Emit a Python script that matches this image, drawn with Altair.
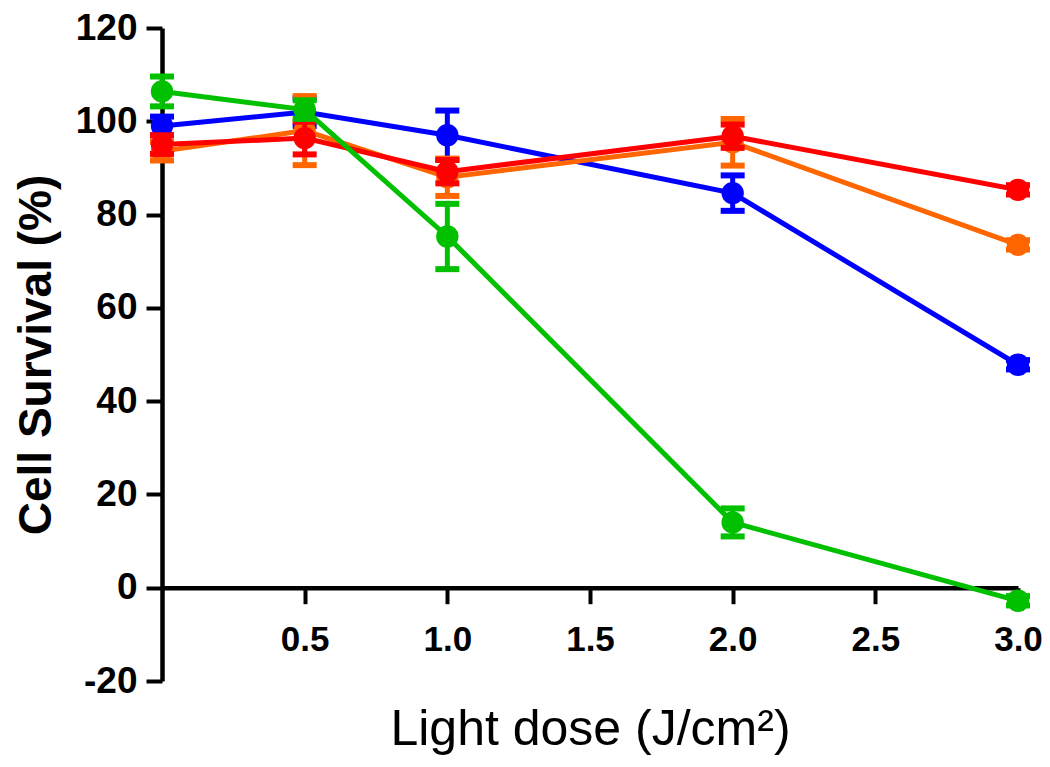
import altair as alt
import pandas as pd

doses = [0, 0.5, 1.0, 2.0, 3.0]

series_names = ["blue", "orange", "red", "green"]
series_colors = ["#0000FF", "#FF6600", "#FF0000", "#00C000"]

blue_vals = [99.0, 102.0, 97.0, 84.6, 47.8]
blue_err = [2.0, 3.0, 5.3, 3.8, 1.0]
orange_vals = [93.6, 98.0, 88.0, 95.5, 73.5]
orange_err = [2.0, 7.4, 4.0, 5.0, 1.0]
red_vals = [95.0, 96.4, 89.2, 96.8, 85.3]
red_err = [2.0, 3.5, 2.5, 2.5, 1.0]
green_vals = [106.4, 102.5, 75.3, 14.0, -2.8]
green_err = [3.2, 2.0, 7.0, 3.0, 1.0]

y_ticks = [-20, 0, 20, 40, 60, 80, 100, 120]
x_ticks = [0.5, 1.0, 1.5, 2.0, 2.5, 3.0]

vals = [blue_vals, orange_vals, red_vals, green_vals]
errs = [blue_err, orange_err, red_err, green_err]

W, H = 856, 653
FONT = "Liberation Sans"

x_scale = alt.Scale(domain=[0, 3], nice=False)
y_scale = alt.Scale(domain=[-20, 120], nice=False)

x_axis = alt.Axis(
    values=x_ticks, format=".1f", title="Light dose (J/cm²)",
    domainWidth=4.5, domainColor="black", tickWidth=4, tickSize=16, tickColor="black",
    labelFont=FONT, labelFontSize=35, labelFontWeight="bold", labelColor="black",
    labelPadding=19, labelFlush=False, grid=False, offset=-H * 20 / 140,
    titleFont=FONT, titleFontSize=50, titleFontWeight="normal", titleColor="black",
    titlePadding=47,
)
y_axis = alt.Axis(
    values=y_ticks, title="Cell Survival (%)",
    labelExpr="'' + datum.value",
    domainWidth=4.5, domainColor="black", tickWidth=4, tickSize=16, tickColor="black",
    labelFont=FONT, labelFontSize=37, labelFontWeight="bold", labelColor="black",
    labelPadding=9, labelFlush=False, grid=False,
    titleFont=FONT, titleFontSize=46, titleFontWeight="bold", titleColor="black",
    titlePadding=15,
)


def X():
    return alt.X("dose:Q", scale=x_scale, axis=x_axis, title="Light dose (J/cm²)")


def Y(field):
    return alt.Y(field + ":Q", scale=y_scale, axis=y_axis, title="Cell Survival (%)")


layers = []
for i, (name, color) in enumerate(zip(series_names, series_colors)):
    df = pd.DataFrame({
        "dose": doses,
        "value": vals[i],
        "lo": [v - e for v, e in zip(vals[i], errs[i])],
        "hi": [v + e for v, e in zip(vals[i], errs[i])],
        "series": name,
    })
    base = alt.Chart(df)
    line = base.mark_line(color=color, strokeWidth=5).encode(x=X(), y=Y("value"))
    rule = base.mark_rule(color=color, strokeWidth=5).encode(x=X(), y=Y("lo"), y2="hi:Q")
    cap_lo = base.mark_tick(color=color, orient="horizontal", size=24, thickness=6, opacity=1).encode(
        x=X(), y=Y("lo"))
    cap_hi = base.mark_tick(color=color, orient="horizontal", size=24, thickness=6, opacity=1).encode(
        x=X(), y=Y("hi"))
    pts = base.mark_point(shape="circle", filled=True, color=color, size=500, opacity=1).encode(
        x=X(), y=Y("value"))
    layers += [line, rule, cap_lo, cap_hi, pts]

chart = alt.layer(*layers).properties(
    width=W, height=H,
    autosize=alt.AutoSizeParams(type="none"),
    padding={"left": 154, "top": 20, "right": 24, "bottom": 78},
    background="white",
).configure_view(stroke=None)

chart.save("out.html", embed_options={"renderer": "svg", "actions": False})
